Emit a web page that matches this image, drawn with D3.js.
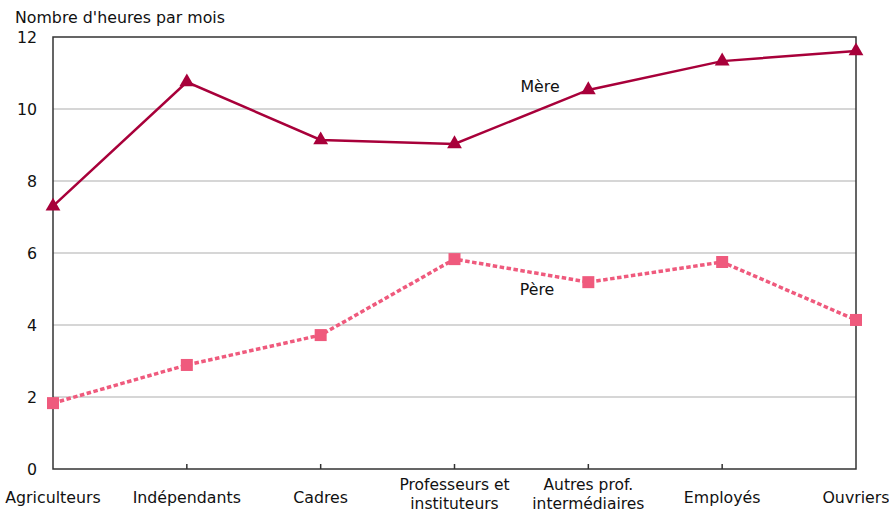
<!DOCTYPE html>
<html><head><meta charset="utf-8">
<script src="https://cdn.jsdelivr.net/npm/d3@7/dist/d3.min.js"></script>
<style>body{margin:0;background:#fff}text{font-family:"DejaVu Sans",Verdana,sans-serif}</style>
</head><body><svg id="c" width="889" height="515"></svg>
<script>
const categories = [["Agriculteurs"],["Indépendants"],["Cadres"],["Professeurs et","instituteurs"],["Autres prof.","intermédiaires"],["Employés"],["Ouvriers"]];
const mere = [7.3, 10.75, 9.14, 9.03, 10.53, 11.33, 11.61];
const pere = [1.83, 2.89, 3.72, 5.83, 5.19, 5.75, 4.14];
const yTicks = [0,2,4,6,8,10,12];
const yTitle = "Nombre d'heures par mois";

const svg = d3.select("#c");
const L=53, R=856, T=37, B=469;
const FS=15.8;
const x = d3.scalePoint().domain(d3.range(categories.length)).range([L,R]);
const y = d3.scaleLinear().domain([0,12]).range([B,T]);

// grid
svg.append("g").selectAll("line").data(yTicks.filter(d=>d>0&&d<12)).join("line")
  .attr("x1",L).attr("x2",R).attr("y1",d=>y(d)).attr("y2",d=>y(d))
  .attr("stroke","#c8c8c8").attr("stroke-width",1.5);

// frame
svg.append("rect").attr("x",L).attr("y",T).attr("width",R-L).attr("height",B-T)
  .attr("fill","none").attr("stroke","#333").attr("stroke-width",1.5);

// y labels
svg.append("g").selectAll("text").data(yTicks).join("text")
  .attr("x",37).attr("y",d=>y(d)).attr("dy","0.35em").attr("text-anchor","end")
  .attr("font-size",FS).attr("fill","#111").text(d=>d);

// x ticks
svg.append("g").selectAll("line").data(d3.range(1,categories.length-1)).join("line")
  .attr("x1",d=>x(d)).attr("x2",d=>x(d)).attr("y1",B-5).attr("y2",B)
  .attr("stroke","#333").attr("stroke-width",1.5);

// x labels
svg.append("g").selectAll("text").data(categories).join("text")
  .attr("x",(d,i)=>x(i)).attr("text-anchor","middle").attr("font-size",FS).attr("fill","#111")
  .attr("y",503).text(d=>d.length===1?d[0]:null);
// two-line labels as separate texts
const multi = [];
categories.forEach((d,i)=>{ if(d.length>1) d.forEach((s,k)=>multi.push({i,k,s})); });
svg.append("g").selectAll("text").data(multi).join("text")
  .attr("x",d=>x(d.i)).attr("y",d=>490+d.k*19).attr("text-anchor","middle")
  .attr("font-size",15.5).attr("fill","#111").text(d=>d.s);

// title
svg.append("text").attr("x",15).attr("y",23).attr("font-size",FS).attr("fill","#111").text(yTitle);

const line = d3.line().x((d,i)=>x(i)).y(d=>y(d));
// pere
svg.append("path").datum(pere).attr("d",line).attr("fill","none")
  .attr("stroke","#ef5a7d").attr("stroke-width",3.5).attr("stroke-dasharray","4.5,2.5");
svg.append("g").selectAll("rect").data(pere).join("rect")
  .attr("x",(d,i)=>x(i)-6).attr("y",d=>y(d)-6).attr("width",12).attr("height",12).attr("fill","#ef5a7d");
// mere
svg.append("path").datum(mere).attr("d",line).attr("fill","none")
  .attr("stroke","#a8003a").attr("stroke-width",2.5);
svg.append("g").selectAll("path.m").data(mere).join("path").attr("class","m")
  .attr("d",d3.symbol(d3.symbolTriangle,95)).attr("transform",(d,i)=>`translate(${x(i)},${y(d)})`)
  .attr("fill","#a8003a");

svg.append("text").attr("x",540).attr("y",92).attr("text-anchor","middle").attr("font-size",FS).attr("fill","#111").text("Mère");
svg.append("text").attr("x",537).attr("y",295).attr("text-anchor","middle").attr("font-size",FS).attr("fill","#111").text("Père");
</script></body></html>
